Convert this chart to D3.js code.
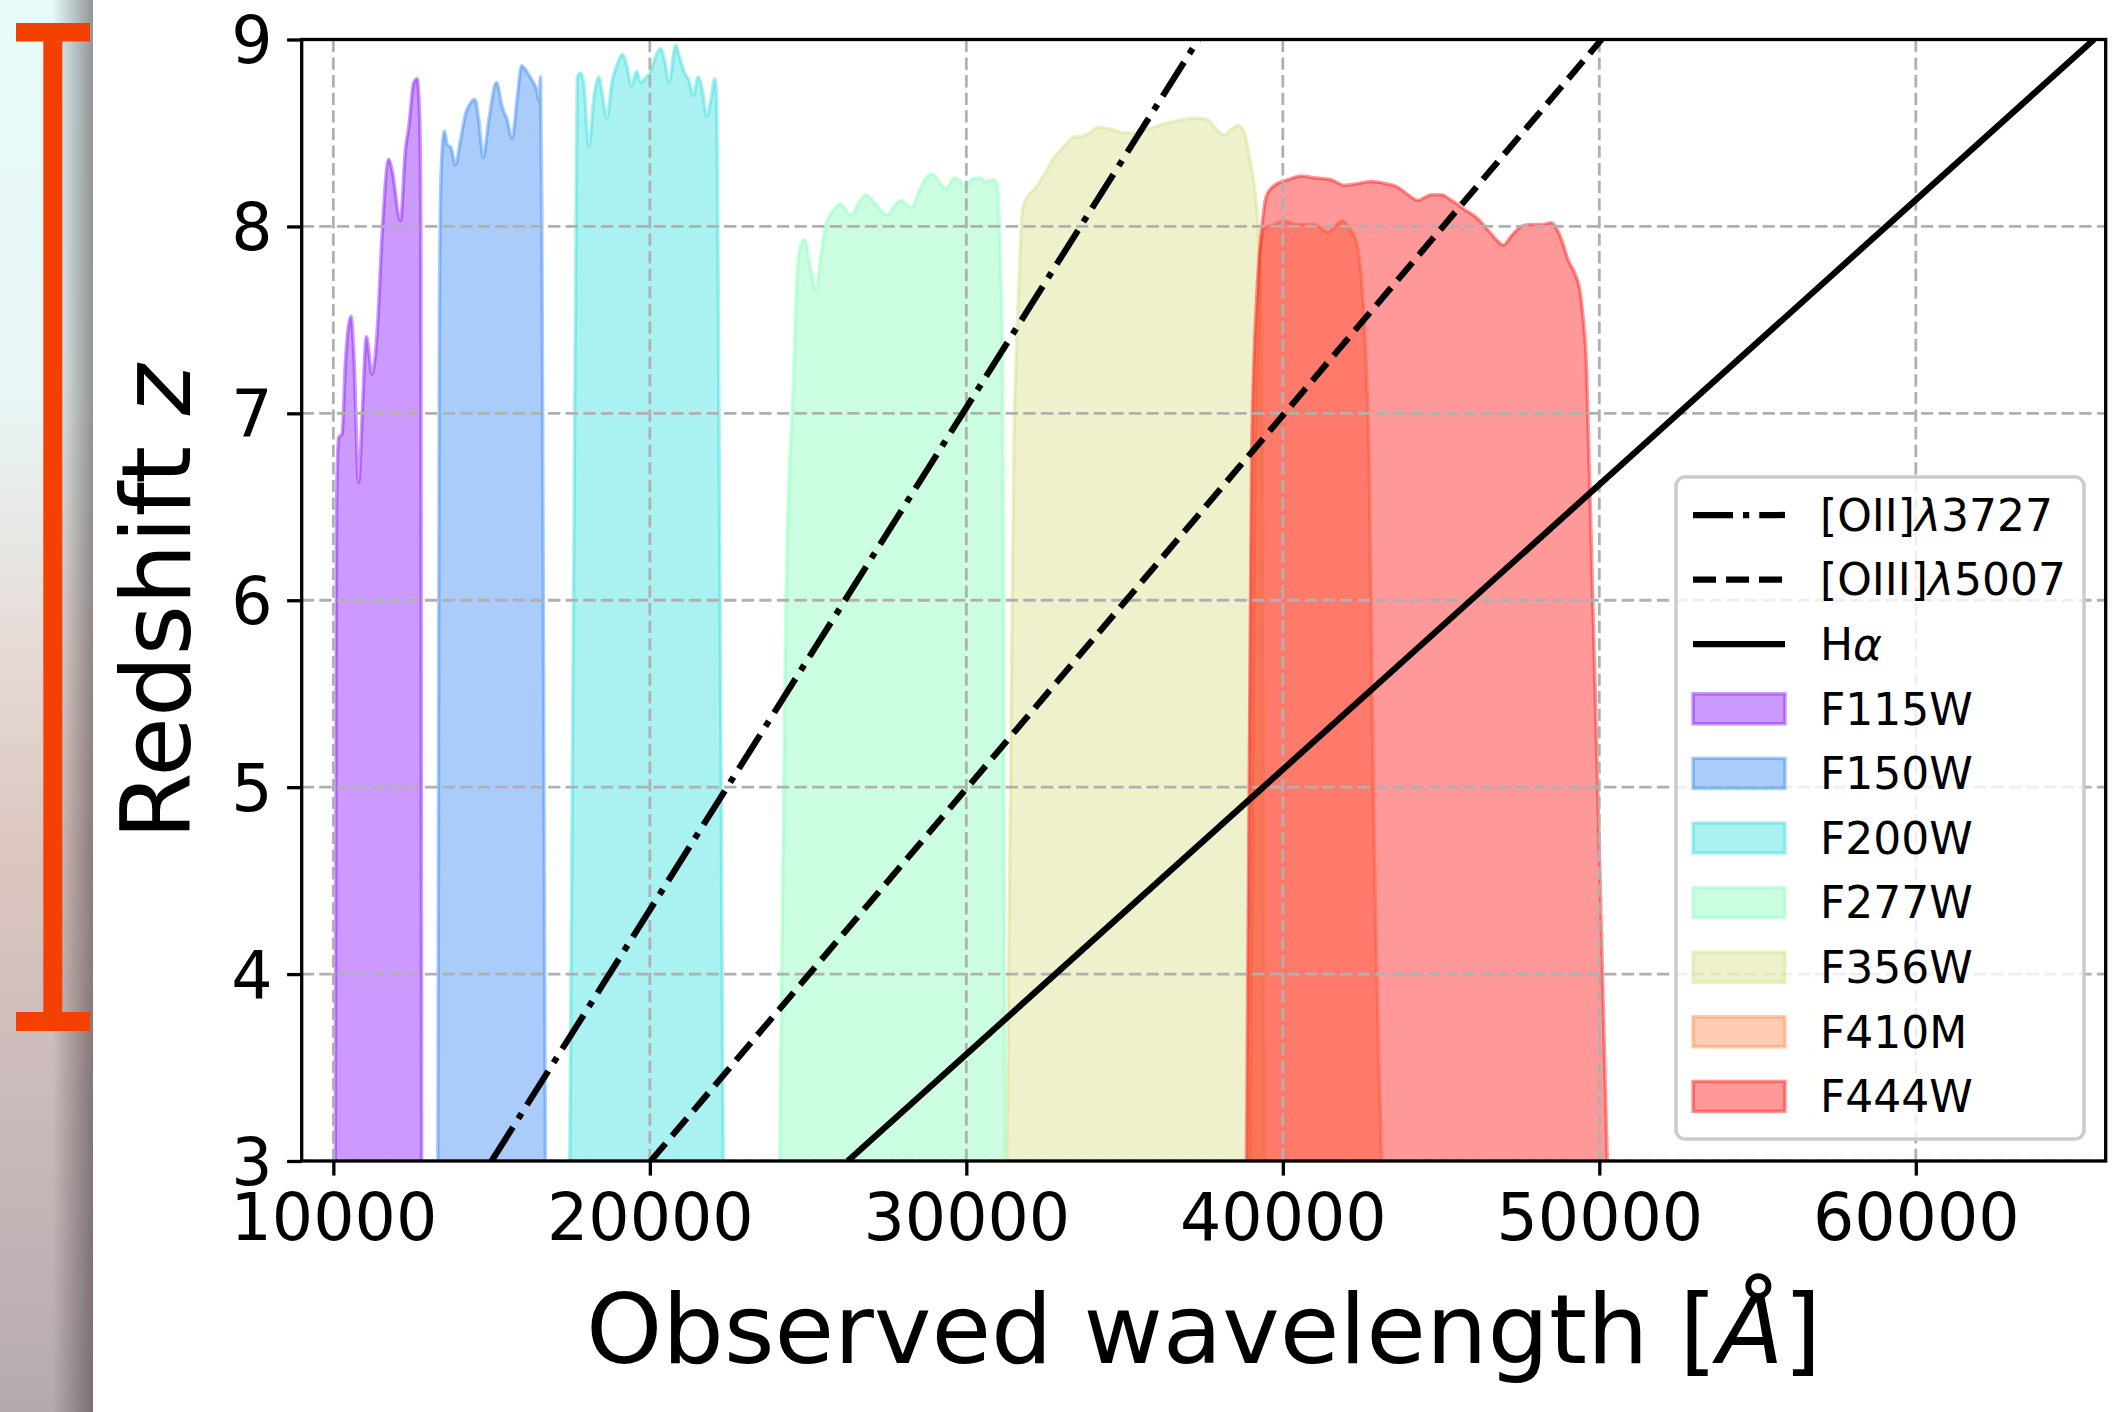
<!DOCTYPE html>
<html>
<head>
<meta charset="utf-8">
<script src="https://d3js.org/d3.v7.min.js"></script>
<style>
  body { margin: 0; background: #fff; }
  svg text { font-family: "DejaVu Sans", sans-serif; fill: #000; }
</style>
</head>
<body>
<div id="chart"></div>
<script>
// filter outlines: [observed wavelength (A), z]
var f115w = [[10060,3],[10100,6.5],[10168,6.87],[10275,6.89],[10380,7.27],[10560,7.52],[10642,7.34],[10800,6.63],
  [10908,6.98],[11044,7.41],[11224,7.21],[11382,7.43],[11540,7.96],[11749,8.36],[11856,8.30],[12119,8.03],
  [12277,8.41],[12381,8.53],[12540,8.77],[12647,8.79],[12729,8.58],[12765,8.0],[12790,3]];
var f150w = [[13300,3],[13350,7.6],[13406,8.30],[13510,8.51],[13596,8.44],[13722,8.42],[13858,8.33],[14016,8.46],
  [14174,8.60],[14333,8.66],[14469,8.68],[14595,8.57],[14734,8.37],[14911,8.57],[15155,8.77],[15335,8.64],
  [15493,8.57],[15651,8.47],[15810,8.69],[15946,8.86],[16104,8.83],[16284,8.78],[16442,8.72],[16493,8.67],
  [16546,8.80],[16590,8.0],[16700,3]];
var f200w = [[17470,3],[17650,7.6],[17707,8.80],[17811,8.82],[17916,8.76],[18074,8.43],[18232,8.69],[18390,8.80],
  [18498,8.71],[18634,8.58],[18814,8.78],[18972,8.87],[19130,8.92],[19288,8.85],[19415,8.75],[19583,8.83],
  [19709,8.77],[19836,8.79],[20025,8.83],[20183,8.91],[20342,8.95],[20468,8.89],[20604,8.77],[20816,8.97],
  [20920,8.92],[21078,8.83],[21237,8.78],[21376,8.70],[21521,8.80],[21660,8.73],[21796,8.59],[21923,8.67],
  [22049,8.79],[22113,8.69],[22150,8.0],[22320,3]];
var f277w = [[24100,3],[24300,6.0],[24540,7.2],[24665,7.78],[24791,7.91],[24905,7.93],[25032,7.82],[25243,7.66],[25402,7.84],
  [25560,8.01],[25772,8.08],[26034,8.12],[26351,8.06],[26613,8.13],[26825,8.17],[27087,8.13],[27511,8.06],
  [27720,8.11],[27932,8.14],[28248,8.10],[28510,8.19],[28722,8.26],[28934,8.28],[29143,8.24],[29355,8.20],
  [29617,8.26],[29829,8.24],[29987,8.21],[30145,8.25],[30408,8.26],[30620,8.24],[30832,8.25],[30968,8.23],
  [31072,7.84],[31148,7.21],[31220,3]];
var f356w = [[31280,3],[31500,6.8],[31640,7.6],[31780,8.10],[31938,8.16],[32201,8.21],[32464,8.28],[32780,8.37],
  [33096,8.43],[33413,8.48],[33624,8.48],[33887,8.50],[34152,8.53],[34573,8.52],[34994,8.50],[35310,8.50],
  [35734,8.52],[36259,8.55],[36787,8.57],[37315,8.58],[37631,8.57],[37947,8.51],[38156,8.49],[38368,8.52],
  [38599,8.54],[38789,8.50],[38947,8.37],[39105,8.21],[39213,8.01],[39295,7.66],[39339,7.39],[39420,3]];
var f410m = [[38950,3],[39120,6.8],[39230,7.5],[39295,7.87],[39421,7.99],[39737,8.01],[40003,8.03],[40478,8.01],
  [41003,8.01],[41426,7.97],[41635,8.00],[41900,8.03],[42109,7.99],[42321,7.92],[42533,7.60],[42637,7.25],
  [42720,6.80],[42860,5.0],[43120,3]];
var f444w = [[38850,3],[39014,6.8],[39200,7.7],[39371,8.05],[39475,8.16],[39737,8.22],[40161,8.25],[40582,8.27],
  [41003,8.26],[41531,8.25],[41951,8.22],[42375,8.23],[42796,8.24],[43217,8.23],[43640,8.21],[43956,8.17],
  [44272,8.14],[44693,8.17],[45009,8.17],[45326,8.14],[45746,8.09],[46170,8.04],[46486,7.98],[46802,7.92],
  [46960,7.90],[47223,7.95],[47539,8.00],[47856,8.01],[48172,8.01],[48488,8.02],[48646,7.99],[48804,7.93],
  [49016,7.82],[49225,7.75],[49383,7.66],[49490,7.51],[49595,7.25],[49668,6.80],[49950,5.0],[50250,3]];

var filterNames = ["F115W", "F150W", "F200W", "F277W", "F356W", "F410M", "F444W"];
var filterColors = ["#8000ff", "#2a80f6", "#2adddd", "#80ffb4", "#d4dd80", "#ff8042", "#ff0000"];
var filterCurves = [f115w, f150w, f200w, f277w, f356w, f410m, f444w];

// emission lines, end points [wavelength, z]
var oii = [[15000,3],[37330,9]];
var oiii = [[20028,3],[50070,9]];
var halpha = [[26252,3],[65630,9]];
var emLines = [oii, oiii, halpha];
var emDash = ["40,10,6.25,10", "23,10", null];

var xTicks = [10000, 20000, 30000, 40000, 50000, 60000];
var yTicks = [3, 4, 5, 6, 7, 8, 9];

var W = 2126, H = 1412;
var x = d3.scaleLinear().domain([9000, 66000]).range([301.7, 2105.7]);
var y = d3.scaleLinear().domain([3, 9]).range([1161, 39.5]);

var svg = d3.select("#chart").append("svg").attr("width", W).attr("height", H);
var defs = svg.append("defs");

// slide strip on the left
var vg = defs.append("linearGradient").attr("id", "strip").attr("x1", 0).attr("y1", 0).attr("x2", 0).attr("y2", 1);
[[0, "#e6fafa"], [0.28, "#e9f6f5"], [0.45, "#e6dcd8"], [0.6, "#dcc6c2"], [0.8, "#c8b9b9"], [1, "#b5abaf"]]
  .forEach(function (s) { vg.append("stop").attr("offset", s[0]).attr("stop-color", s[1]); });
var hg = defs.append("linearGradient").attr("id", "shade").attr("x1", 0).attr("y1", 0).attr("x2", 1).attr("y2", 0);
hg.append("stop").attr("offset", 0).attr("stop-color", "#3c3236").attr("stop-opacity", 0);
hg.append("stop").attr("offset", 1).attr("stop-color", "#3c3236").attr("stop-opacity", 0.5);
svg.append("rect").attr("x", 0).attr("y", 0).attr("width", 93).attr("height", H).attr("fill", "url(#strip)");
svg.append("rect").attr("x", 52).attr("y", 0).attr("width", 41).attr("height", H).attr("fill", "url(#shade)");
var bracket = svg.append("g").attr("fill", "#f44000");
bracket.append("rect").attr("x", 16).attr("y", 23).attr("width", 74).attr("height", 18.5);
bracket.append("rect").attr("x", 43.3).attr("y", 23).attr("width", 19).attr("height", 1008);
bracket.append("rect").attr("x", 16).attr("y", 1012).attr("width", 74).attr("height", 19);

defs.append("clipPath").attr("id", "plotclip").append("rect")
  .attr("x", x.range()[0]).attr("y", y.range()[1])
  .attr("width", x.range()[1] - x.range()[0]).attr("height", y.range()[0] - y.range()[1]);

var plot = svg.append("g").attr("clip-path", "url(#plotclip)");

// filter fills
var area = d3.area().curve(d3.curveMonotoneX)
  .x(function (d) { return x(d[0]); })
  .y0(y(3))
  .y1(function (d) { return y(d[1]); });
filterCurves.forEach(function (c, i) {
  plot.append("path").attr("d", area(c))
    .attr("fill", filterColors[i]).attr("fill-opacity", 0.4)
    .attr("stroke", filterColors[i]).attr("stroke-opacity", 0.4).attr("stroke-width", 3.5)
    .attr("stroke-linejoin", "round");
});

// grid
var grid = plot.append("g").attr("stroke", "#b0b0b0").attr("stroke-width", 2.8).attr("stroke-dasharray", "12.3,5.3");
xTicks.forEach(function (t) {
  grid.append("line").attr("x1", x(t)).attr("x2", x(t)).attr("y1", y(3)).attr("y2", y(9));
});
yTicks.forEach(function (t) {
  grid.append("line").attr("x1", x.range()[0]).attr("x2", x.range()[1]).attr("y1", y(t)).attr("y2", y(t));
});

// emission lines
var line = d3.line().x(function (d) { return x(d[0]); }).y(function (d) { return y(d[1]); });
emLines.forEach(function (l, i) {
  plot.append("path").attr("d", line(l)).attr("fill", "none")
    .attr("stroke", "#000").attr("stroke-width", 6.25)
    .attr("stroke-dasharray", emDash[i]);
});

// axes
var xAxis = svg.append("g").attr("transform", "translate(0," + y(3) + ")")
  .call(d3.axisBottom(x).tickValues(xTicks).tickSize(14.6).tickPadding(18).tickFormat(d3.format("d")));
var yAxis = svg.append("g").attr("transform", "translate(" + x.range()[0] + ",0)")
  .call(d3.axisLeft(y).tickValues(yTicks).tickSize(14.6).tickPadding(14.5).tickFormat(d3.format("d")));
[xAxis, yAxis].forEach(function (a) {
  a.select(".domain").remove();
  a.selectAll(".tick line").attr("stroke", "#000").attr("stroke-width", 3.3);
  a.selectAll(".tick text").attr("font-size", 65).attr("font-family", "DejaVu Sans").attr("fill", "#000");
});
yAxis.selectAll(".tick text").attr("dy", "0.36em");

svg.append("rect").attr("x", x.range()[0]).attr("y", y.range()[1])
  .attr("width", x.range()[1] - x.range()[0]).attr("height", y.range()[0] - y.range()[1])
  .attr("fill", "none").attr("stroke", "#000").attr("stroke-width", 3.3);

// axis labels
var xl = svg.append("text").attr("x", (x.range()[0] + x.range()[1]) / 2).attr("y", 1363)
  .attr("text-anchor", "middle").attr("font-size", 97);
xl.append("tspan").text("Observed wavelength [");
xl.append("tspan").attr("font-style", "italic").text("Å");
xl.append("tspan").text("]");

var yl = svg.append("text").attr("transform", "translate(190,602) rotate(-90)")
  .attr("text-anchor", "middle").attr("font-size", 97);
yl.append("tspan").text("Redshift ");
yl.append("tspan").attr("font-style", "italic").text("z");

// legend
var lg = svg.append("g");
lg.append("rect").attr("x", 1676).attr("y", 477).attr("width", 408).attr("height", 662)
  .attr("rx", 9).attr("fill", "#fff").attr("fill-opacity", 0.8)
  .attr("stroke", "#cccccc").attr("stroke-width", 3.5);
var rowY = function (i) { return 515 + i * 64.6; };
var lineLabels = [["[OII]", "λ", "3727"], ["[OIII]", "λ", "5007"], ["H", "α", ""]];
lineLabels.forEach(function (lab, i) {
  lg.append("line").attr("x1", 1693).attr("x2", 1785).attr("y1", rowY(i)).attr("y2", rowY(i))
    .attr("stroke", "#000").attr("stroke-width", 6.25).attr("stroke-dasharray", emDash[i]);
  var t = lg.append("text").attr("x", 1820).attr("y", rowY(i) + 15.8).attr("font-size", 44);
  t.append("tspan").text(lab[0]);
  t.append("tspan").attr("font-style", "italic").text(lab[1]);
  t.append("tspan").text(lab[2]);
});
filterNames.forEach(function (n, k) {
  var i = k + 3;
  lg.append("rect").attr("x", 1693).attr("y", rowY(i) - 15).attr("width", 92).attr("height", 30)
    .attr("fill", filterColors[k]).attr("fill-opacity", 0.4)
    .attr("stroke", filterColors[k]).attr("stroke-opacity", 0.4).attr("stroke-width", 3.5);
  lg.append("text").attr("x", 1820).attr("y", rowY(i) + 15.8).attr("font-size", 44).text(n);
});
</script>
</body>
</html>
